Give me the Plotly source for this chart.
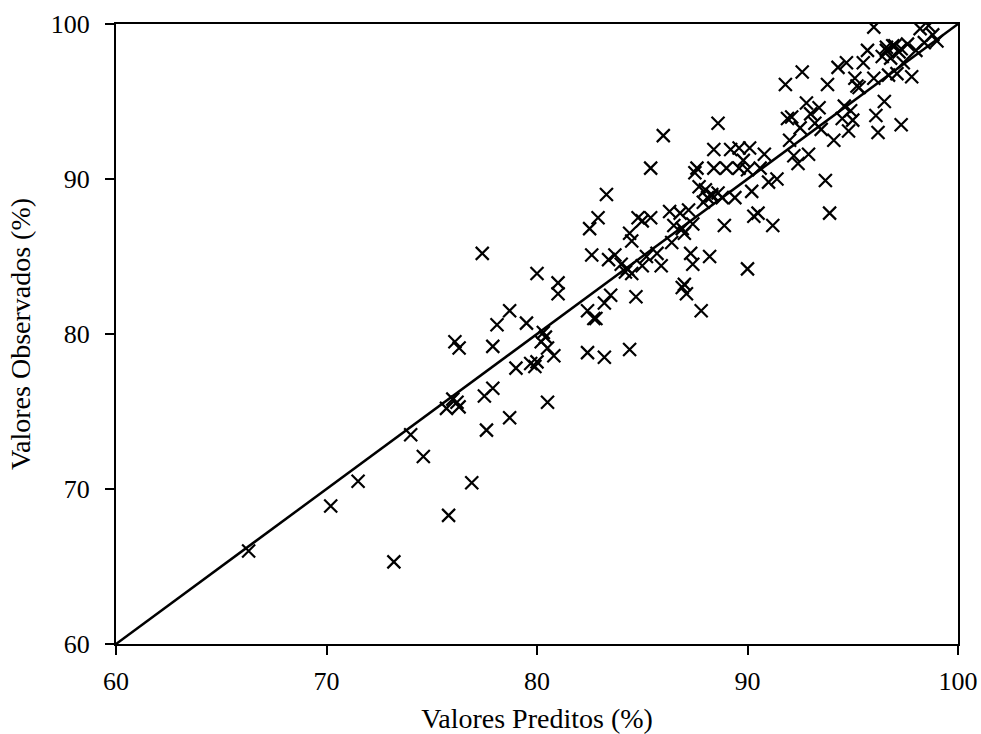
import plotly.graph_objects as go

preditos = [
    66.3, 70.2, 71.5, 73.2, 74.0, 74.6, 75.8, 76.9, 75.7, 76.0, 76.3, 76.1, 76.3,
    77.4, 77.5, 77.6, 77.9, 77.9, 78.1, 78.7, 78.7, 79.0, 79.5, 79.7, 79.9, 80.0,
    80.0, 80.2, 80.3, 80.5, 80.5, 80.8, 81.0, 81.0, 82.4, 82.4, 82.5, 82.6, 82.7,
    82.8, 82.9, 83.2, 83.2, 83.3, 83.4, 83.5, 83.7, 84.0, 84.2, 84.4, 84.4, 84.5,
    84.5, 84.7, 84.8, 85.0, 85.2, 85.4, 85.4, 85.7, 85.9, 86.0, 86.3, 86.4, 86.5,
    86.8, 86.9, 87.0, 87.1, 87.2, 87.3, 87.4, 87.5, 87.6, 87.7, 87.8, 87.9, 88.0,
    88.1, 88.2, 88.3, 88.4, 88.6, 88.4, 88.8, 88.9, 89.0, 89.2, 89.4, 89.6, 89.6,
    90.0, 90.1, 90.0, 90.2, 90.3, 90.5, 90.6, 90.8, 91.0, 91.2, 91.4, 91.8, 91.9,
    92.0, 92.2, 92.4, 92.5, 92.6, 92.8, 93.0, 93.2, 93.4, 93.5, 93.7, 93.8, 93.9,
    94.1, 94.3, 94.5, 94.6, 94.7, 94.8, 95.0, 95.1, 95.3, 95.5, 95.7, 96.0, 96.0,
    96.1, 96.2, 96.4, 96.5, 96.6, 96.7, 96.8, 97.0, 97.1, 97.2, 97.3, 97.4, 97.6,
    97.8, 98.0, 98.2, 98.4, 98.6, 98.8, 99.0, 88.3, 88.6, 84.3, 86.9, 87.0, 96.6,
    96.9, 97.3, 95.2, 94.9, 92.1, 92.9, 89.8, 80.4, 76.2, 87.4, 85.0,
]
observados = [
    66.0, 68.9, 70.5, 65.3, 73.5, 72.1, 68.3, 70.4, 75.2, 75.8, 75.3, 79.5, 79.1,
    85.2, 76.0, 73.8, 76.5, 79.2, 80.6, 81.5, 74.6, 77.8, 80.7, 78.1, 77.9, 78.2,
    83.9, 79.5, 80.1, 79.1, 75.6, 78.6, 82.6, 83.3, 81.5, 78.8, 86.8, 85.1, 81.0,
    81.0, 87.5, 78.5, 82.0, 89.0, 84.8, 82.5, 85.1, 84.5, 84.0, 79.0, 86.5, 86.0,
    83.9, 82.4, 87.5, 84.4, 85.0, 87.5, 90.7, 85.2, 84.4, 92.8, 87.9, 85.9, 87.0,
    87.8, 83.0, 86.5, 82.6, 88.0, 85.2, 84.5, 90.4, 90.7, 89.5, 81.5, 88.5, 89.3,
    88.8, 85.0, 89.0, 91.9, 93.6, 90.7, 88.8, 87.0, 90.7, 91.9, 88.8, 92.0, 90.7,
    84.2, 92.0, 90.6, 89.2, 87.6, 87.8, 90.7, 91.6, 89.8, 87.0, 90.0, 96.1, 93.9,
    92.5, 91.5, 91.0, 93.3, 96.9, 94.9, 94.2, 93.6, 94.6, 93.2, 89.9, 96.1, 87.8,
    92.5, 97.2, 93.9, 94.7, 97.5, 93.1, 93.8, 96.5, 95.9, 97.5, 98.3, 99.8, 96.5,
    94.1, 93.0, 97.9, 95.0, 98.5, 96.7, 97.8, 98.6, 96.8, 98.2, 93.5, 97.5, 98.7,
    96.6, 98.3, 99.7, 98.8, 99.9, 99.3, 98.9, 88.9, 89.1, 84.2, 86.8, 83.2, 98.3,
    98.6, 98.4, 96.0, 94.4, 94.0, 91.6, 91.2, 79.8, 75.6, 87.1, 87.3,
]

linha = [60, 100]
ticks = [60, 70, 80, 90, 100]

fig = go.Figure()
fig.add_trace(go.Scatter(
    x=linha, y=linha, mode="lines",
    line=dict(color="black", width=2.5), showlegend=False, hoverinfo="skip",
))
fig.add_trace(go.Scatter(
    x=preditos, y=observados, mode="markers",
    marker=dict(symbol="x-thin", size=13, line=dict(color="black", width=2.2)),
    showlegend=False,
))

tickfont = dict(family="Liberation Serif", size=26, color="black")
titlefont = dict(family="Liberation Serif", size=28, color="black")
axis_common = dict(
    range=[60, 100], tickvals=ticks, ticks="outside", ticklen=9, tickwidth=1.5,
    tickcolor="black", showline=True, linecolor="black", linewidth=2,
    mirror=True, showgrid=False, zeroline=False, tickfont=tickfont,
    automargin=False,
)
fig.update_layout(
    width=981, height=734,
    margin=dict(l=116, r=23, t=24, b=90),
    paper_bgcolor="white", plot_bgcolor="white",
    font=tickfont,
    xaxis=dict(title=dict(text="Valores Preditos (%)", font=titlefont, standoff=14),
               ticklabelstandoff=4, **axis_common),
    yaxis=dict(title=dict(text="Valores Observados (%)", font=titlefont, standoff=12),
               ticklabelstandoff=10, **axis_common),
)
fig.write_html("out.html")
